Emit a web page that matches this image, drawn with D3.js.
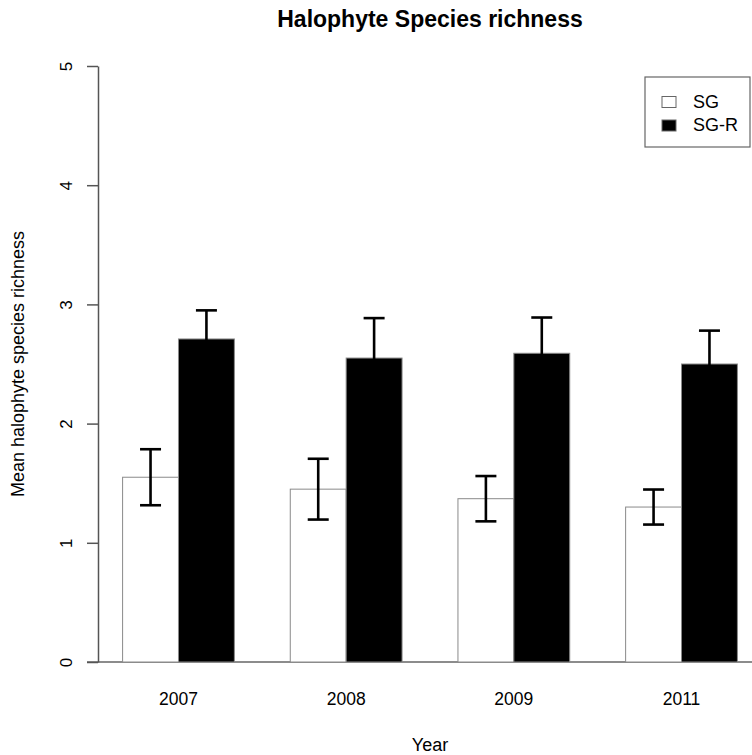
<!DOCTYPE html>
<html>
<head>
<meta charset="utf-8">
<script src="https://cdn.jsdelivr.net/npm/d3@7"></script>
<style>
  body { margin: 0; background: #fff; }
  svg text { font-family: "Liberation Sans", Arial, Helvetica, sans-serif; fill: #000; }
</style>
</head>
<body>
<svg id="chart" width="752" height="755"></svg>
<script>
// values
var years = ['2007', '2008', '2009', '2011'];
var seriesNames = ['SG', 'SG-R'];
var sgMean = [1.55, 1.45, 1.37, 1.30];
var sgSE = [0.235, 0.255, 0.19, 0.147];
var sgrMean = [2.71, 2.55, 2.59, 2.50];
var sgrSE = [0.24, 0.335, 0.30, 0.28];
var yTicks = [0, 1, 2, 3, 4, 5];

var fills = { 'SG': '#fff', 'SG-R': '#000' };

var svg = d3.select('#chart');

// R-like barplot coordinates: bars at units 1..12, plot window extended 4%
var x = d3.scaleLinear().domain([0.56, 12.44]).range([98, 762]);
var y = d3.scaleLinear().domain([0, 5]).range([662, 66]);

var x0 = d3.scaleBand()
  .domain(years)
  .range([x(0), x(12)])
  .paddingInner(1 / 3)
  .paddingOuter(1 / 6)
  .align(1);

var x1 = d3.scaleBand()
  .domain(seriesNames)
  .range([0, x0.bandwidth()]);

var rows = [];
years.forEach(function (yr, i) {
  rows.push({ year: yr, series: 'SG', mean: sgMean[i], se: sgSE[i] });
  rows.push({ year: yr, series: 'SG-R', mean: sgrMean[i], se: sgrSE[i] });
});

// baseline line across the plot
svg.append('line')
  .attr('x1', x(0.56) - 11).attr('x2', 752)
  .attr('y1', y(0)).attr('y2', y(0))
  .attr('stroke', '#666').attr('stroke-width', 1.3);

// bars
svg.append('g').selectAll('rect')
  .data(rows)
  .join('rect')
  .attr('x', function (d) { return x0(d.year) + x1(d.series); })
  .attr('y', function (d) { return y(d.mean); })
  .attr('width', x1.bandwidth())
  .attr('height', function (d) { return y(0) - y(d.mean); })
  .attr('fill', function (d) { return fills[d.series]; })
  .attr('stroke', '#8a8a8a')
  .attr('stroke-width', 1);

// error bars (black, so the part over the black bars disappears)
var capW = 10.5;
var err = svg.append('g').selectAll('g')
  .data(rows)
  .join('g')
  .attr('transform', function (d) {
    return 'translate(' + (x0(d.year) + x1(d.series) + x1.bandwidth() / 2) + ',0)';
  })
  .attr('stroke', '#000')
  .attr('stroke-width', 2.6);

err.append('line')
  .attr('x1', 0).attr('x2', 0)
  .attr('y1', function (d) { return y(d.mean - d.se); })
  .attr('y2', function (d) { return y(d.mean + d.se); });
err.append('line')
  .attr('x1', -capW).attr('x2', capW)
  .attr('y1', function (d) { return y(d.mean + d.se); })
  .attr('y2', function (d) { return y(d.mean + d.se); });
err.append('line')
  .attr('x1', -capW).attr('x2', capW)
  .attr('y1', function (d) { return y(d.mean - d.se); })
  .attr('y2', function (d) { return y(d.mean - d.se); });

// y axis
var yAxis = svg.append('g')
  .attr('transform', 'translate(' + x(0.56) + ',0)')
  .call(d3.axisLeft(y).tickValues(yTicks).tickFormat(d3.format('d'))
    .tickSize(11).tickSizeOuter(0));
yAxis.select('.domain').attr('stroke', '#555').attr('stroke-width', 1.5);
yAxis.selectAll('.tick line').attr('stroke', '#555').attr('stroke-width', 1.5);
yAxis.selectAll('.tick text')
  .attr('x', null).attr('dy', null)
  .attr('transform', 'translate(-26,0) rotate(-90)')
  .attr('text-anchor', 'middle')
  .style('font-size', '17px');

// x labels
var xAxis = svg.append('g')
  .attr('transform', 'translate(0,' + y(0) + ')')
  .call(d3.axisBottom(x0).tickSize(0).tickPadding(31));
xAxis.select('.domain').remove();
xAxis.selectAll('.tick text').style('font-size', '17.5px');

// titles
var cx = (x(0.56) + x(12.44)) / 2;
svg.append('text')
  .attr('x', cx).attr('y', 27)
  .attr('text-anchor', 'middle')
  .style('font-size', '23px').style('font-weight', 'bold')
  .text('Halophyte Species richness');

svg.append('text')
  .attr('x', cx).attr('y', 751)
  .attr('text-anchor', 'middle')
  .style('font-size', '18px')
  .text('Year');

svg.append('text')
  .attr('transform', 'translate(24,' + (y(0) + y(5)) / 2 + ') rotate(-90)')
  .attr('text-anchor', 'middle')
  .style('font-size', '18px')
  .text('Mean halophyte species richness');

// legend
var legend = svg.append('g');
legend.append('rect')
  .attr('x', 645).attr('y', 77).attr('width', 105).attr('height', 70)
  .attr('fill', '#fff').attr('stroke', '#666').attr('stroke-width', 1.2);

var item = legend.selectAll('g.item')
  .data(seriesNames)
  .join('g')
  .attr('class', 'item')
  .attr('transform', function (d, i) { return 'translate(0,' + (i * 23.5) + ')'; });
item.append('rect')
  .attr('x', 662).attr('y', 96.5).attr('width', 14).attr('height', 11)
  .attr('fill', function (d) { return fills[d]; })
  .attr('stroke', '#666').attr('stroke-width', 1);
item.append('text')
  .attr('x', 693).attr('y', 107.5)
  .style('font-size', '18px')
  .text(function (d) { return d; });
</script>
</body>
</html>
